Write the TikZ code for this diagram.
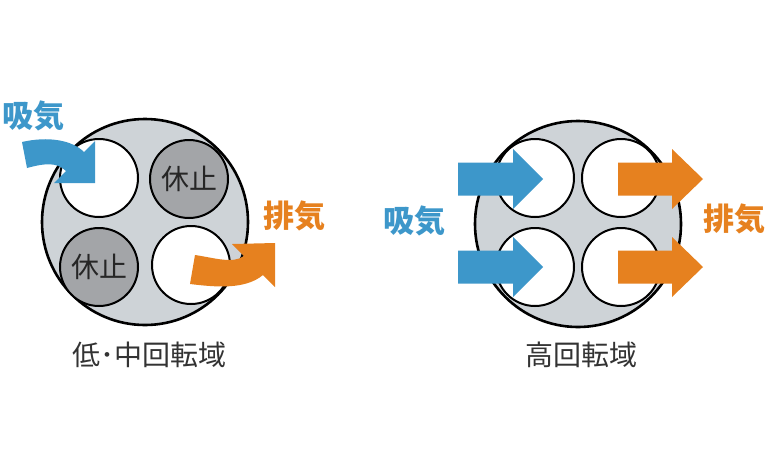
\documentclass[tikz,border=0pt]{standalone}
\usepackage{fontspec}
\newfontfamily\cjk{Noto Sans CJK JP}
\definecolor{inblue}{HTML}{3D97CA}
\definecolor{exorange}{HTML}{E6811F}
\definecolor{bodygrey}{HTML}{CED3D7}
\definecolor{idlegrey}{HTML}{A3A5A8}
\definecolor{labeltext}{HTML}{333333}
\begin{document}
\begin{tikzpicture}[x=1pt,y=-1pt,
  body/.style={circle,draw=black,line width=2.6pt,fill=bodygrey,minimum size=206pt,inner sep=0pt},
  valve/.style={circle,draw=black,line width=2pt,fill=white,minimum size=78pt,inner sep=0pt},
  idle/.style={valve,fill=idlegrey,font=\cjk\fontsize{28}{28}\selectfont,text=black!85},
  intake/.style={fill=inblue},
  exhaust/.style={fill=exorange},
  flowlabel/.style={font=\cjk\bfseries\fontsize{31}{31}\selectfont},
  caption/.style={font=\cjk\fontsize{28}{28}\selectfont,text=labeltext}]
\useasboundingbox (0,0) rectangle (768,472);
% ---------- left: low / mid speed ----------
\node[body] (L) at (145,222) {};
\node[valve] (L1) at (99,178) {};
\node[idle] (L2) at (189,179) {休止};
\node[idle] (L3) at (99,267) {休止};
\node[valve] (L4) at (191,265) {};
% intake curved arrow
\fill[intake] (22,142) .. controls (48,136) and (72,140) .. (84,152)
  -- (95,141) -- (95,183) -- (54,183) -- (66,171)
  .. controls (56,161) and (42,164) .. (27,168) -- cycle;
% exhaust curved arrow
\fill[exhaust] (195,255) .. controls (215,258) and (233,264) .. (244,256)
  -- (232,244) -- (275,243) -- (275,287) -- (263,275)
  .. controls (245,290) and (215,287) .. (190,284) -- cycle;
\node[flowlabel,text=inblue] (Lin) at (33,116) {吸気};
\node[flowlabel,text=exorange] (Lex) at (294,216) {排気};
\node[caption] (Lcap) at (149,355) {低･中回転域};
% ---------- right: high speed ----------
\node[body] (R) at (578,224) {};
\node[valve] (R1) at (535,178) {};
\node[valve] (R2) at (621,178) {};
\node[valve] (R3) at (535,267) {};
\node[valve] (R4) at (621,267) {};
\foreach \yy in {179,267}{
  \fill[intake] (458,\yy-16.5) -- (513,\yy-16.5) -- (513,\yy-30) -- (543,\yy)
    -- (513,\yy+30) -- (513,\yy+16.5) -- (458,\yy+16.5) -- cycle;
  \fill[exhaust] (618,\yy-16.5) -- (672,\yy-16.5) -- (672,\yy-30) -- (703,\yy)
    -- (672,\yy+30) -- (672,\yy+16.5) -- (618,\yy+16.5) -- cycle;
}
\node[flowlabel,text=inblue] (Rin) at (414,221) {吸気};
\node[flowlabel,text=exorange] (Rex) at (734,219) {排気};
\node[caption] (Rcap) at (581,355) {高回転域};
\end{tikzpicture}
\end{document}
